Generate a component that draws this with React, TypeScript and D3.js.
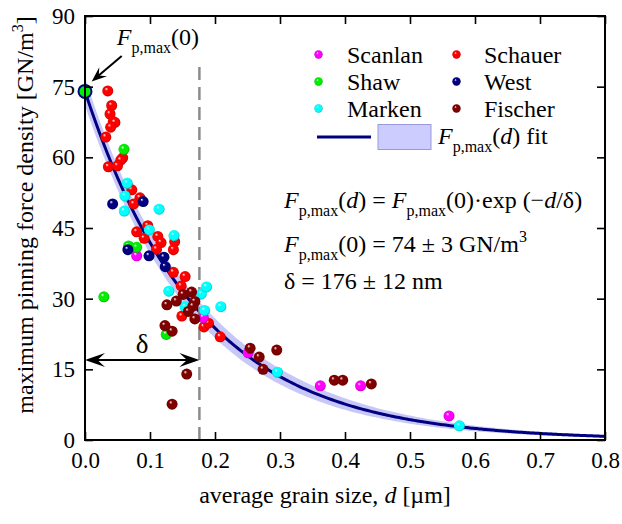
import React, { useEffect, useRef } from 'react';
import * as d3 from 'd3';

// fit parameters
const F0 = 74;
const F0err = 3;
const delta = 0.176;
const deltaErr = 0.012;

const xTicks = [0, 0.1, 0.2, 0.3, 0.4, 0.5, 0.6, 0.7, 0.8];
const yTicks = [0, 15, 30, 45, 60, 75, 90];

// [grain size d (um), Fp,max (GN/m3)]
const scanlan = [
  [0.0795, 39.1], [0.182, 26.0], [0.251, 18.5], [0.362, 11.5], [0.424, 11.5], [0.56, 5.1],
];
const shaw = [
  [0.06, 61.7], [0.067, 41.2], [0.0795, 40.9], [0.125, 22.4], [0.029, 30.4],
];
const marken = [
  [0.065, 54.5], [0.0615, 51.8], [0.0605, 48.6], [0.114, 49.0], [0.099, 44.6], [0.137, 43.4],
  [0.129, 31.6], [0.179, 31.0], [0.187, 32.5], [0.154, 28.3], [0.184, 27.5], [0.209, 28.3],
  [0.296, 14.4], [0.576, 3.0],
];
const schauer = [
  [0.035, 74.1], [0.041, 71.0], [0.0385, 69.2], [0.0435, 67.6], [0.046, 67.4], [0.0395, 66.4],
  [0.032, 64.3], [0.058, 59.9], [0.055, 59.4], [0.036, 58.0], [0.05, 58.2], [0.072, 53.1],
  [0.0845, 51.4], [0.075, 50.1], [0.0965, 45.5], [0.0795, 44.2], [0.091, 42.8], [0.112, 43.2],
  [0.117, 41.9], [0.138, 42.1], [0.11, 40.5], [0.136, 40.4], [0.136, 35.6], [0.154, 34.7],
  [0.148, 32.7], [0.149, 26.3], [0.183, 24.0], [0.19, 24.8], [0.208, 21.9],
];
const west = [
  [0.0425, 50.1], [0.0895, 50.6], [0.066, 40.4], [0.0985, 39.1], [0.1215, 38.8], [0.1235, 36.8],
];
const fischer = [
  [0.151, 30.9], [0.164, 31.4], [0.1405, 29.5], [0.169, 29.4], [0.126, 28.7], [0.166, 28.4],
  [0.159, 27.3], [0.169, 25.7], [0.123, 24.3], [0.134, 23.1], [0.1565, 14.0], [0.134, 7.6],
  [0.254, 19.5], [0.268, 17.6], [0.295, 19.1], [0.274, 15.0], [0.3835, 12.7], [0.3965, 12.7],
  [0.4405, 11.9],
];

const series = [
  { name: 'Schauer', color: '#ff0000', data: schauer },
  { name: 'Scanlan', color: '#ff00ff', data: scanlan },
  { name: 'Shaw', color: '#00ee00', data: shaw },
  { name: 'Marken', color: '#00ffff', data: marken },
  { name: 'West', color: '#000080', data: west },
  { name: 'Fischer', color: '#800000', data: fischer },
];

// legend layout: two columns
const legendCols = [
  ['Scanlan', 'Shaw', 'Marken'],
  ['Schauer', 'West', 'Fischer'],
];

const FONT = 'Liberation Serif, Times New Roman, serif';

const App = () => {
  const ref = useRef<SVGSVGElement | null>(null);

  useEffect(() => {
    if (!ref.current) return;
    const svg = d3.select(ref.current);
    svg.selectAll('*').remove();

    const width = 622;
    const height = 524;
    const margin = { top: 16, right: 17, bottom: 84, left: 85 };

    const x = d3.scaleLinear().domain([0, 0.8]).range([margin.left, width - margin.right]);
    const y = d3.scaleLinear().domain([0, 90]).range([height - margin.bottom, margin.top]);

    const defs = svg.append('defs');
    series.forEach((s, i) => {
      const base = d3.color(s.color)!;
      const g = defs.append('radialGradient')
        .attr('id', 'ball' + i)
        .attr('cx', '50%').attr('cy', '50%').attr('r', '55%')
        .attr('fx', '35%').attr('fy', '30%');
      g.append('stop').attr('offset', '0%').attr('stop-color', '#ffffff');
      g.append('stop').attr('offset', '28%').attr('stop-color', s.color);
      g.append('stop').attr('offset', '75%').attr('stop-color', s.color);
      g.append('stop').attr('offset', '100%').attr('stop-color', base.darker(1.2).formatHex());
    });
    defs.append('clipPath').attr('id', 'plotClip')
      .append('rect')
      .attr('x', margin.left).attr('y', margin.top)
      .attr('width', width - margin.left - margin.right)
      .attr('height', height - margin.top - margin.bottom);

    // fit curve and band
    const ds = d3.range(0, 0.8001, 0.005);
    const fit = (d: number) => F0 * Math.exp(-d / delta);
    const rel = (d: number) => Math.sqrt((F0err / F0) ** 2 + ((d / delta) * (deltaErr / delta)) ** 2);

    const plot = svg.append('g').attr('clip-path', 'url(#plotClip)');

    const area = d3.area<number>()
      .x(d => x(d))
      .y0(d => y(fit(d) * (1 - rel(d))))
      .y1(d => y(fit(d) * (1 + rel(d))))
      .curve(d3.curveMonotoneX);
    plot.append('path').datum(ds).attr('d', area).attr('fill', '#c8c8f8');

    const line = d3.line<number>().x(d => x(d)).y(d => y(fit(d))).curve(d3.curveMonotoneX);
    plot.append('path').datum(ds).attr('d', line)
      .attr('fill', 'none').attr('stroke', '#000080').attr('stroke-width', 3);

    // dashed delta line
    svg.append('line')
      .attr('x1', x(delta)).attr('x2', x(delta))
      .attr('y1', y(0)).attr('y2', y(80))
      .attr('stroke', '#8c8c8c').attr('stroke-width', 2.5)
      .attr('stroke-dasharray', '13,7');

    // data points
    series.forEach((s, i) => {
      svg.append('g').selectAll('circle')
        .data(s.data)
        .enter()
        .append('circle')
        .attr('cx', d => x(d[0]))
        .attr('cy', d => y(d[1]))
        .attr('r', 5.5)
        .attr('fill', `url(#ball${i})`);
    });

    // Fp,max(0) point
    svg.append('circle')
      .attr('cx', x(0)).attr('cy', y(F0)).attr('r', 6.5)
      .attr('fill', '#00ee00').attr('stroke', '#000080').attr('stroke-width', 2);

    // axes
    const tickStyle = (g: any) => {
      g.select('.domain').remove();
      g.attr('font-family', null).attr('font-size', null);
      g.selectAll('.tick line').attr('stroke', '#000').attr('stroke-width', 1.6);
      g.selectAll('.tick text').style('font-family', FONT).style('font-size', '23px').attr('fill', '#000');
    };
    svg.append('g').attr('transform', `translate(0,${y(0)})`)
      .call(d3.axisBottom(x).tickValues(xTicks).tickFormat(d3.format('.1f')).tickSize(-8).tickPadding(12))
      .call(tickStyle);
    svg.append('g').attr('transform', `translate(0,${y(90)})`)
      .call(d3.axisTop(x).tickValues(xTicks).tickFormat(() => '').tickSize(-8))
      .call(tickStyle);
    svg.append('g').attr('transform', `translate(${x(0)},0)`)
      .call(d3.axisLeft(y).tickValues(yTicks).tickSize(-8).tickPadding(10))
      .call(tickStyle);
    svg.append('g').attr('transform', `translate(${x(0.8)},0)`)
      .call(d3.axisRight(y).tickValues(yTicks).tickFormat(() => '').tickSize(-8))
      .call(tickStyle);

    svg.append('rect')
      .attr('x', x(0)).attr('y', y(90))
      .attr('width', x(0.8) - x(0)).attr('height', y(0) - y(90))
      .attr('fill', 'none').attr('stroke', '#000').attr('stroke-width', 2);

    // axis titles
    const xt = svg.append('text')
      .attr('x', 325).attr('y', 503)
      .attr('text-anchor', 'middle')
      .style('font-size', '24px');
    xt.append('tspan').text('average grain size, ');
    xt.append('tspan').attr('font-style', 'italic').text('d');
    xt.append('tspan').text(' [\u00b5m]');

    const yt = svg.append('text')
      .attr('transform', 'translate(33,215) rotate(-90)')
      .attr('text-anchor', 'middle')
      .style('font-size', '24px');
    yt.append('tspan').text('maximum pinning force density [GN/m');
    yt.append('tspan').attr('font-size', 16).attr('dy', -10).text('3');
    yt.append('tspan').attr('dy', 10).text(']');

    // stealth arrowhead
    const arrowHead = (tx: number, ty: number, ang: number, L: number, w: number) => {
      const pts = [[0, 0], [-L, -w], [-0.62 * L, 0], [-L, w]].map(([px, py]) => [
        tx + px * Math.cos(ang) - py * Math.sin(ang),
        ty + px * Math.sin(ang) + py * Math.cos(ang),
      ]);
      svg.append('path').attr('d', 'M' + pts.map(p => p.join(',')).join('L') + 'Z').attr('fill', '#000');
    };

    // Fp,max(d) style text helper
    const fpText = (t: any, arg: string, argItalic: boolean) => {
      t.append('tspan').attr('font-style', 'italic').text('F');
      t.append('tspan').attr('font-size', 16).attr('dy', 8).text('p,max');
      t.append('tspan').attr('dy', -8).text('(');
      t.append('tspan').attr('font-style', argItalic ? 'italic' : 'normal').text(arg);
      t.append('tspan').text(')');
    };

    // Fp,max(0) annotation
    const a1 = svg.append('text')
      .attr('x', x(0.049)).attr('y', y(83.8))
      .style('font-size', '24px');
    fpText(a1, '0', false);
    const tail = [x(0.0565), y(81.5)];
    const tip = [x(0.0103), y(76.1)];
    const ang1 = Math.atan2(tip[1] - tail[1], tip[0] - tail[0]);
    svg.append('line')
      .attr('x1', tail[0]).attr('y1', tail[1])
      .attr('x2', tip[0] - 8 * Math.cos(ang1)).attr('y2', tip[1] - 8 * Math.sin(ang1))
      .attr('stroke', '#000').attr('stroke-width', 2);
    arrowHead(tip[0], tip[1], ang1, 15, 6);

    // delta arrow
    const ay = y(17);
    svg.append('line')
      .attr('x1', x(0) + 8).attr('x2', x(delta) - 8)
      .attr('y1', ay).attr('y2', ay)
      .attr('stroke', '#000').attr('stroke-width', 2);
    arrowHead(x(0), ay, Math.PI, 20, 7);
    arrowHead(x(delta), ay, 0, 20, 7);
    svg.append('text')
      .attr('x', x(delta / 2)).attr('y', ay - 7)
      .attr('text-anchor', 'middle')
      .style('font-size', '27px')
      .text('\u03b4');

    // equations
    const e1 = svg.append('text').attr('x', 284).attr('y', 208).style('font-size', '24px');
    fpText(e1, 'd', true);
    e1.append('tspan').text(' = ');
    fpText(e1, '0', false);
    e1.append('tspan').text('\u00b7exp (\u2212');
    e1.append('tspan').attr('font-style', 'italic').text('d');
    e1.append('tspan').text('/\u03b4)');

    const e2 = svg.append('text').attr('x', 284).attr('y', 252).style('font-size', '24px');
    fpText(e2, '0', false);
    e2.append('tspan').text(` = ${F0} \u00b1 ${F0err} GN/m`);
    e2.append('tspan').attr('font-size', 16).attr('dy', -10).text('3');

    svg.append('text').attr('x', 284).attr('y', 289)
      .style('font-size', '24px')
      .text(`\u03b4 = ${Math.round(delta * 1000)} \u00b1 ${Math.round(deltaErr * 1000)} nm`);

    // legend
    const colX = [318.5, 456.5];
    const textX = [347, 484];
    legendCols.forEach((col, ci) => {
      col.forEach((name, ri) => {
        const si = series.findIndex(s => s.name === name);
        const by = 63 + ri * 27;
        svg.append('circle')
          .attr('cx', colX[ci]).attr('cy', by - 8.5).attr('r', 4.2)
          .attr('fill', `url(#ball${si})`);
        svg.append('text')
          .attr('x', textX[ci]).attr('y', by)
          .style('font-size', '24px')
          .text(name);
      });
    });
    svg.append('line')
      .attr('x1', 317).attr('x2', 371).attr('y1', 137).attr('y2', 137)
      .attr('stroke', '#000080').attr('stroke-width', 3);
    svg.append('rect')
      .attr('x', 378).attr('y', 124.5).attr('width', 53).attr('height', 25)
      .attr('fill', '#ccccff').attr('stroke', '#9999dd').attr('stroke-width', 1);
    const lt = svg.append('text').attr('x', 438).attr('y', 144).style('font-size', '24px');
    fpText(lt, 'd', true);
    lt.append('tspan').text(' fit');
  }, []);

  return (
    <svg
      ref={ref}
      width={622}
      height={524}
      style={{ position: 'absolute', left: 0, top: 0, background: '#fff', fontFamily: FONT }}
    />
  );
};

export default App;
